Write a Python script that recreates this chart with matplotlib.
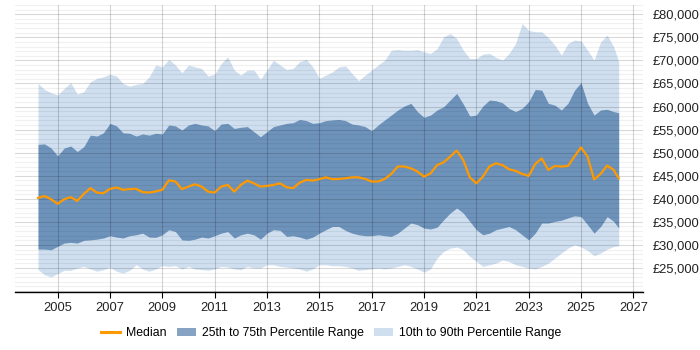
import numpy as np
import matplotlib
matplotlib.use("Agg")
import matplotlib.pyplot as plt
from matplotlib.ticker import MultipleLocator, FuncFormatter
from matplotlib.patches import Patch
from matplotlib.lines import Line2D

plt.rcParams['font.family'] = ['Liberation Sans', 'DejaVu Sans']

# quarterly dates from 2004.25 to 2026.25, plus final point
years = list(np.arange(2004.25, 2026.26, 0.25)) + [2026.44]

median = [40200, 40600, 39900, 38900, 39900, 40350, 39550, 41050, 42300, 41350, 41200,
          42150, 42450, 41950, 42100, 42150, 41450, 41350, 41600, 41950, 44000, 43750,
          42100, 42650, 43150, 42650, 41550, 41350, 42650, 43000, 41550, 43000, 43950,
          43350, 42650, 42800, 43000, 43350, 42500, 42300, 43500, 44100, 43950, 44250,
          44650, 44250, 44300, 44450, 44650, 44650, 44300, 43750, 43750, 44300, 45400,
          47000, 47000, 46600, 45900, 44800, 45500, 47300, 47900, 49150, 50450, 48400,
          44650, 43350, 44800, 47000, 47700, 47300, 46400, 46050, 45400, 44950, 47550,
          48750, 46250, 47100, 47000, 47100, 49150, 51150, 49150, 44200, 45400, 47200,
          46250, 44450]

p75 = [51800, 51900, 51000, 49300, 51000, 51450, 50250, 51300, 53800, 53600, 54300,
       56350, 55800, 54300, 54200, 53600, 54050, 53800, 54200, 54050, 56000, 55800,
       54900, 56000, 56350, 56000, 55800, 54750, 56200, 56350, 55250, 55500, 55650,
       54550, 53450, 54550, 55650, 56000, 56350, 56500, 57200, 56950, 56350, 56500,
       56950, 57100, 57200, 56950, 56200, 56000, 55650, 54750, 56000, 57100, 58150,
       59250, 60100, 60700, 58900, 57650, 58150, 59250, 59950, 61400, 62850, 60550,
       57950, 58150, 60100, 61400, 61250, 60800, 59600, 58900, 59600, 61050, 63700,
       63550, 60700, 60300, 59250, 60700, 63500, 65200, 60700, 58150, 59250, 59400,
       58900, 58650]

p90 = [65000, 63700, 63000, 62500, 63900, 65150, 62700, 63200, 65350, 66100, 66450,
       67000, 66600, 65000, 64400, 64800, 65000, 66450, 69000, 68600, 70200, 69000,
       67300, 69000, 68600, 68250, 66600, 67000, 69300, 70750, 67900, 66800, 67900,
       67900, 65900, 67900, 70050, 69000, 68000, 68250, 69700, 70200, 68600, 66100,
       66800, 67500, 68600, 68800, 67150, 65600, 66800, 67900, 69000, 70050, 72200,
       72350, 72200, 72200, 72350, 71850, 71500, 72550, 75100, 75800, 74750, 72200,
       70400, 70400, 71350, 71500, 70650, 70050, 71500, 73650, 78000, 76500, 76200,
       76200, 74950, 73300, 71150, 73650, 74400, 74250, 72200, 70050, 74000, 75450,
       72950, 69700]

p25 = [29100, 29100, 28950, 29700, 30400, 30550, 30400, 31000, 31100, 31250, 31500,
       32000, 31700, 31500, 32000, 32200, 32550, 31700, 31650, 32200, 33300, 32900,
       31100, 31000, 31250, 31700, 31500, 32000, 32550, 32900, 31500, 32200, 32550,
       32200, 31250, 32550, 33300, 33150, 31850, 32000, 31700, 31250, 31700, 32550,
       33300, 34000, 34000, 33150, 32550, 32200, 32000, 32000, 32200, 32000, 31850,
       32550, 33650, 34750, 34400, 33650, 33450, 33850, 35450, 36900, 38000, 36900,
       35100, 33300, 32200, 32550, 33300, 33650, 34000, 33300, 32200, 31100, 32550,
       34750, 34750, 35100, 35350, 35850, 36300, 36150, 34400, 32550, 34000, 36150,
       35100, 33650]

p10 = [24650, 23550, 23050, 23800, 24500, 24500, 25000, 25350, 24800, 24300, 24650,
       25150, 24300, 23900, 24500, 25700, 24800, 24300, 24800, 25500, 25350, 25500,
       24800, 25350, 24800, 24650, 24500, 24800, 25350, 25200, 24800, 24650, 25350,
       25000, 25000, 25700, 25700, 25350, 25200, 25000, 24800, 24300, 24800, 25700,
       25700, 25500, 25500, 25350, 25000, 24500, 24650, 24800, 25000, 24800, 25000,
       25350, 25700, 25350, 24800, 24100, 24800, 27150, 28600, 29300, 29550, 28950,
       27500, 26450, 25350, 25700, 26050, 26750, 26400, 25700, 25350, 25000, 24800,
       25350, 26050, 27150, 28250, 29300, 30050, 29550, 28800, 27650, 28250, 29100,
       29650, 29800]

year_ticks = list(range(2005, 2028, 2))

fig = plt.figure(figsize=(7, 3.5), dpi=100)
ax = fig.add_axes([0.0214, 0.1657, 0.8972, 0.82])

light = '#cfdfef'
dark = '#6e93bb'
orange = '#ff9900'

ax.fill_between(years, p10, p90, color=light, lw=0, zorder=1)
ax.fill_between(years, p25, p75, color=dark, lw=0, zorder=2)
ax.plot(years, median, color=orange, lw=1.6, zorder=4)

ax.set_xlim(2003.37, 2027.37)
ax.set_ylim(19800, 82000)

ax.yaxis.set_major_locator(MultipleLocator(5000))
ax.yaxis.set_minor_locator(MultipleLocator(1000))
ax.set_xticks(year_ticks)
ax.yaxis.tick_right()
ax.yaxis.set_major_formatter(FuncFormatter(lambda v, p: f"£{int(v):,}" if 25000 <= v <= 80000 else ""))

ax.grid(axis='y', which='minor', color='black', alpha=0.06, lw=0.8, zorder=3)
ax.grid(axis='y', which='major', color='black', alpha=0.15, lw=0.8, zorder=3)
ax.grid(axis='x', which='major', color='black', alpha=0.17, lw=0.8, zorder=3)
ax.set_axisbelow(False)

for s in ['top', 'left', 'right']:
    ax.spines[s].set_visible(False)
ax.spines['bottom'].set_color('black')
ax.spines['bottom'].set_linewidth(1.0)

ax.tick_params(axis='y', which='both', length=0, pad=7, labelsize=9.3, labelcolor='#222222')
ax.tick_params(axis='x', which='major', length=4, width=0.8, color='black', labelsize=9.3,
               labelcolor='#222222', pad=3)

handles = [Line2D([0], [0], color=orange, lw=2.2),
           Patch(facecolor='#86a3c3', edgecolor='none'),
           Patch(facecolor='#cfdfef', edgecolor='none')]
labels = ['Median', '25th to 75th Percentile Range', '10th to 90th Percentile Range']
fig.legend(handles, labels, loc='center', bbox_to_anchor=(0.473, 0.048), ncol=3, frameon=False,
           fontsize=8.8, handlelength=1.55, handletextpad=0.5, columnspacing=0.85)

fig.savefig('out.png', dpi=100)
